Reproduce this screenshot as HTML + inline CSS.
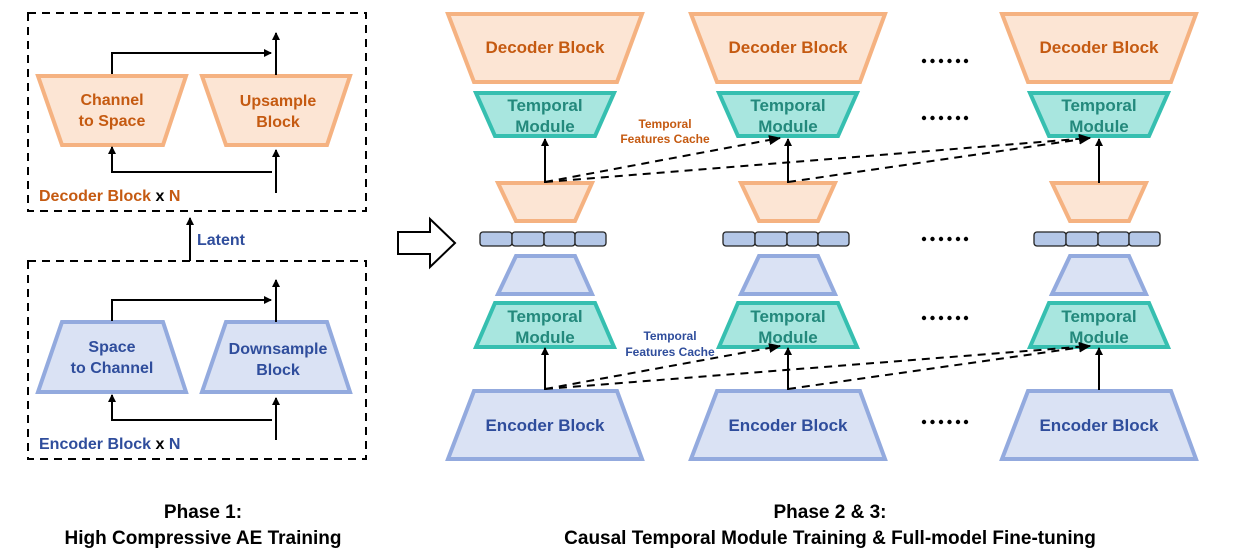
<!DOCTYPE html>
<html><head><meta charset="utf-8"><style>
html,body{margin:0;padding:0;background:#fff;}
svg{display:block;font-family:"Comic Sans MS","Liberation Sans",sans-serif;font-weight:bold;}
</style></head><body>
<svg width="1254" height="558" viewBox="0 0 1254 558" xmlns="http://www.w3.org/2000/svg">
<defs>
<marker id="ah" markerWidth="8" markerHeight="8" refX="7" refY="4" orient="auto" markerUnits="userSpaceOnUse">
<path d="M0,0 L8,4 L0,8 z" fill="#000"/></marker>
<marker id="ah2" markerWidth="12" markerHeight="10" refX="11" refY="5" orient="auto" markerUnits="userSpaceOnUse">
<path d="M0,0 L12,5 L0,10 z" fill="#000"/></marker>
<g id="dots" fill="#000">
<circle cx="924" cy="0" r="2.2"/><circle cx="932.5" cy="0" r="2.2"/><circle cx="941" cy="0" r="2.2"/>
<circle cx="949.5" cy="0" r="2.2"/><circle cx="958" cy="0" r="2.2"/><circle cx="966" cy="0" r="2.2"/>
</g>
</defs>
<!-- LEFT PANEL -->
<rect x="28" y="13" width="338" height="198" fill="none" stroke="#000" stroke-width="2" stroke-dasharray="8,6"/>
<rect x="28" y="261" width="338" height="198" fill="none" stroke="#000" stroke-width="2" stroke-dasharray="8,6"/>
<g stroke-width="4" stroke-linejoin="miter">
<polygon points="38,76 186,76 163,145 62,145" fill="#fce5d4" stroke="#f5b281"/>
<polygon points="202,76 350,76 327,145 226,145" fill="#fce5d4" stroke="#f5b281"/>
<polygon points="62,322 163,322 186,392 38,392" fill="#dae2f4" stroke="#93aade"/>
<polygon points="226,322 327,322 350,392 202,392" fill="#dae2f4" stroke="#93aade"/>
</g>
<g stroke="#000" stroke-width="2" fill="none">
<polyline points="112,74 112,53 271,53" marker-end="url(#ah)"/>
<line x1="276" y1="75" x2="276" y2="33" marker-end="url(#ah)"/>
<line x1="276" y1="193" x2="276" y2="150" marker-end="url(#ah)"/>
<polyline points="272,172 112,172 112,147" marker-end="url(#ah)"/>
<polyline points="112,321 112,300 271,300" marker-end="url(#ah)"/>
<line x1="276" y1="322" x2="276" y2="280" marker-end="url(#ah)"/>
<line x1="276" y1="440" x2="276" y2="398" marker-end="url(#ah)"/>
<polyline points="272,420 112,420 112,395" marker-end="url(#ah)"/>
<line x1="190" y1="261" x2="190" y2="218" marker-end="url(#ah)"/>
</g>
<g font-size="16" text-anchor="middle">
<text x="112" y="105" fill="#c55a11">Channel</text>
<text x="112" y="126" fill="#c55a11">to Space</text>
<text x="278" y="106" fill="#c55a11">Upsample</text>
<text x="278" y="127" fill="#c55a11">Block</text>
<text x="112" y="352" fill="#2f4d9c">Space</text>
<text x="112" y="373" fill="#2f4d9c">to Channel</text>
<text x="278" y="354" fill="#2f4d9c">Downsample</text>
<text x="278" y="375" fill="#2f4d9c">Block</text>
</g>
<g font-size="16">
<text x="39" y="201" fill="#c55a11">Decoder Block <tspan fill="#000">x</tspan> N</text>
<text x="39" y="449" fill="#2f4d9c">Encoder Block <tspan fill="#000">x</tspan> N</text>
<text x="197" y="245" fill="#2f4d9c">Latent</text>
</g>
<polygon points="398,232 430,232 430,219 455,243 430,267 430,254 398,254" fill="#fff" stroke="#000" stroke-width="2"/>

<g id="col">
<g stroke-width="4">
<polygon points="448,14 642,14 617,82 474,82" fill="#fce5d4" stroke="#f5b281"/>
<polygon points="476,93 614,93 595,136 495,136" fill="#a8e6df" stroke="#36bfb0"/>
<polygon points="498,183 592,183 575,221 516,221" fill="#fce5d4" stroke="#f5b281"/>
<polygon points="516,256 575,256 592,294 498,294" fill="#dae2f4" stroke="#93aade"/>
<polygon points="495,303 595,303 614,347 476,347" fill="#a8e6df" stroke="#36bfb0"/>
<polygon points="474,391 617,391 642,459 448,459" fill="#dae2f4" stroke="#93aade"/>
</g>
<g fill="#b4c7e7" stroke="#222" stroke-width="1.3">
<rect x="480" y="232" width="32" height="14" rx="3"/>
<rect x="512" y="232" width="32" height="14" rx="3"/>
<rect x="544" y="232" width="31" height="14" rx="3"/>
<rect x="575" y="232" width="31" height="14" rx="3"/>
</g>
<g stroke="#000" stroke-width="2">
<line x1="545" y1="183" x2="545" y2="139" marker-end="url(#ah)"/>
<line x1="545" y1="390" x2="545" y2="348" marker-end="url(#ah)"/>
</g>
<g font-size="17" text-anchor="middle">
<text x="545" y="53" fill="#c55a11">Decoder Block</text>
<text x="545" y="111" fill="#23897c">Temporal</text>
<text x="545" y="132" fill="#23897c">Module</text>
<text x="545" y="322" fill="#23897c">Temporal</text>
<text x="545" y="343" fill="#23897c">Module</text>
<text x="545" y="431" fill="#2f4d9c">Encoder Block</text>
</g>
</g>
<use href="#col" x="243" y="0"/>
<use href="#col" x="554" y="0"/>

<g stroke="#000" stroke-width="2" stroke-dasharray="8,6" fill="none">
<line x1="545" y1="182" x2="780" y2="138" marker-end="url(#ah2)"/>
<line x1="545" y1="182" x2="1090" y2="138" marker-end="url(#ah2)"/>
<line x1="788" y1="182" x2="1090" y2="138" marker-end="url(#ah2)"/>
<line x1="545" y1="389" x2="780" y2="346" marker-end="url(#ah2)"/>
<line x1="545" y1="389" x2="1090" y2="346" marker-end="url(#ah2)"/>
<line x1="788" y1="389" x2="1090" y2="346" marker-end="url(#ah2)"/>
</g>
<g font-size="12" text-anchor="middle">
<text x="665" y="128" fill="#c55a11">Temporal</text>
<text x="665" y="143" fill="#c55a11">Features Cache</text>
<text x="670" y="340" fill="#2f4d9c">Temporal</text>
<text x="670" y="356" fill="#2f4d9c">Features Cache</text>
</g>
<use href="#dots" y="61"/>
<use href="#dots" y="118"/>
<use href="#dots" y="239"/>
<use href="#dots" y="318"/>
<use href="#dots" y="422"/>
<g font-size="19" text-anchor="middle" fill="#000">
<text x="203" y="518">Phase 1:</text>
<text x="203" y="544">High Compressive AE Training</text>
<text x="830" y="518">Phase 2 &amp; 3:</text>
<text x="830" y="544">Causal Temporal Module Training &amp; Full-model Fine-tuning</text>
</g>
</svg>
</body></html>
